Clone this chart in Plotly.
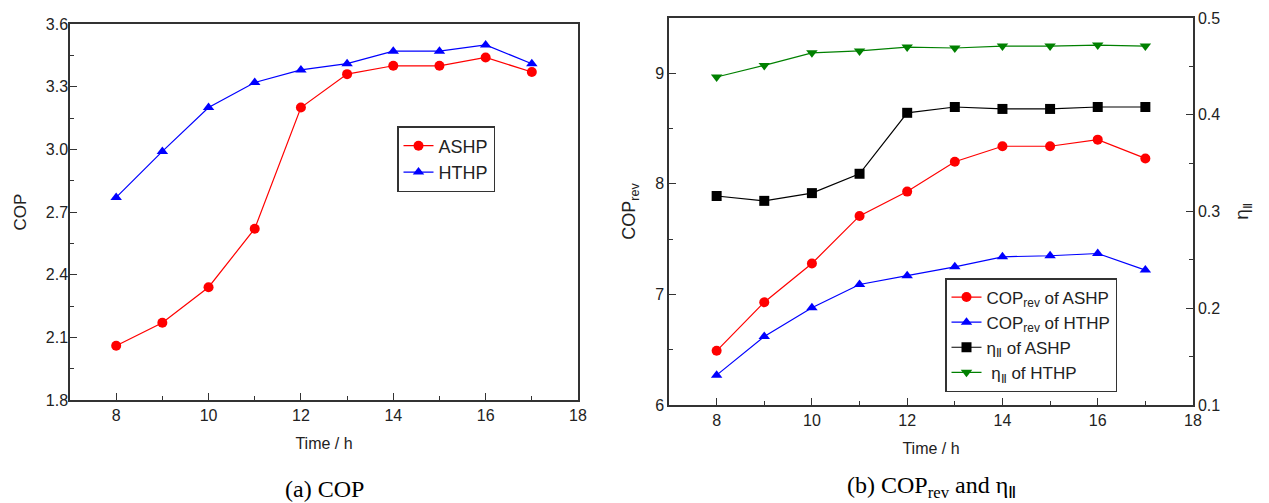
import plotly.graph_objects as go

hours = [8, 9, 10, 11, 12, 13, 14, 15, 16, 17]

# (a) COP
cop_ashp = [2.06, 2.17, 2.34, 2.62, 3.20, 3.36, 3.40, 3.40, 3.44, 3.37]
cop_hthp = [2.77, 2.99, 3.20, 3.32, 3.38, 3.41, 3.47, 3.47, 3.50, 3.41]

# (b) COP_rev and second-law efficiency
coprev_ashp = [6.49, 6.93, 7.28, 7.71, 7.93, 8.20, 8.34, 8.34, 8.40, 8.23]
coprev_hthp = [6.27, 6.62, 6.88, 7.09, 7.17, 7.25, 7.34, 7.35, 7.37, 7.22]
eta_ashp = [0.316, 0.311, 0.319, 0.339, 0.402, 0.408, 0.406, 0.406, 0.408, 0.408]
eta_hthp = [0.439, 0.451, 0.464, 0.466, 0.470, 0.469, 0.471, 0.471, 0.472, 0.471]

RED = "#ff0000"
BLUE = "#0000ff"
BLACK = "#000000"
GREEN = "#008000"
FRAME = "#333333"
FONT = "Liberation Sans, Arial, sans-serif"

fig = go.Figure()

def add(x, y, name, color, symbol, xa, ya, legend):
    fig.add_trace(go.Scatter(
        x=x, y=y, name=name, mode="lines+markers",
        line=dict(color=color, width=1.2),
        marker=dict(color=color, symbol=symbol, size=10),
        xaxis=xa, yaxis=ya, legend=legend))

add(hours, cop_ashp, "ASHP", RED, "circle", "x", "y", "legend")
add(hours, cop_hthp, "HTHP", BLUE, "triangle-up", "x", "y", "legend")
add(hours, coprev_ashp, "COP<sub>rev</sub> of ASHP", RED, "circle", "x2", "y2", "legend2")
add(hours, coprev_hthp, "COP<sub>rev</sub> of HTHP", BLUE, "triangle-up", "x2", "y2", "legend2")
add(hours, eta_ashp, "η<sub>Ⅱ</sub> of ASHP", BLACK, "square", "x2", "y3", "legend2")
add(hours, eta_hthp, " η<sub>Ⅱ</sub> of HTHP", GREEN, "triangle-down", "x2", "y3", "legend2")

W, H = 1269, 503
def px(v):
    return v / W
def py(v):
    return 1 - v / H

axis_common = dict(
    showline=True, linecolor=FRAME, linewidth=1.5, mirror=True,
    ticks="inside", ticklen=7, tickwidth=1, tickcolor=FRAME,
    showgrid=False, zeroline=False, automargin=False,
    tickfont=dict(family=FONT, size=16, color="#222"),
)

xcommon = dict(axis_common, range=[7, 18], dtick=2, tick0=8,
               minor=dict(ticks="inside", ticklen=4, dtick=1, tick0=7, tickcolor=FRAME),
               title=dict(text="Time / h", font=dict(family=FONT, size=16, color="#222")))

fig.update_layout(
    width=W, height=H,
    margin=dict(l=0, r=0, t=0, b=0),
    plot_bgcolor="white", paper_bgcolor="white",
    showlegend=True,
    xaxis=dict(xcommon, domain=[px(70), px(578)], anchor="y"),
    yaxis=dict(axis_common, domain=[py(400), py(24)], anchor="x",
               range=[1.8, 3.6], dtick=0.3, tick0=1.8, tickformat=".1f",
               ticklabelstandoff=-3,
               minor=dict(ticks="inside", ticklen=4, dtick=0.15, tick0=1.8, tickcolor=FRAME),
               title=dict(text="COP", font=dict(family=FONT, size=17, color="#222"))),
    xaxis2=dict(xcommon, domain=[px(669), px(1193)], anchor="y2"),
    yaxis2=dict(axis_common, domain=[py(405), py(18)], anchor="x2",
                range=[6, 9.5], dtick=1, tick0=6,
                minor=dict(ticks="inside", ticklen=4, dtick=0.5, tick0=6, tickcolor=FRAME),
                title=dict(text="COP<sub>rev</sub>", font=dict(family=FONT, size=18, color="#222"))),
    yaxis3=dict(axis_common, overlaying="y2", side="right", anchor="x2",
                mirror=False, range=[0.1, 0.5], dtick=0.1, tick0=0.1,
                minor=dict(ticks="inside", ticklen=4, dtick=0.05, tick0=0.1, tickcolor=FRAME),
                title=dict(text="η<sub>Ⅱ</sub>", font=dict(family=FONT, size=19, color="#222"))),
    legend=dict(x=px(397), y=py(126), xanchor="left", yanchor="top",
                bgcolor="white", bordercolor=FRAME, borderwidth=1.5,
                font=dict(family=FONT, size=18, color="#222"), tracegroupgap=0),
    legend2=dict(x=px(945), y=py(278), xanchor="left", yanchor="top",
                 bgcolor="white", bordercolor=FRAME, borderwidth=1.5,
                 font=dict(family=FONT, size=17, color="#222"), tracegroupgap=0),
)

caption_font = dict(family="Liberation Serif, Times New Roman, serif", size=24, color="#000")
fig.add_annotation(text="(a) COP", x=(px(70) + px(578)) / 2, y=py(489), xref="paper", yref="paper",
                   showarrow=False, font=caption_font, xanchor="center", yanchor="middle")
fig.add_annotation(text="(b) COP<sub>rev</sub> and η<sub>Ⅱ</sub>", x=(px(669) + px(1193)) / 2, y=py(487),
                   xref="paper", yref="paper", showarrow=False, font=caption_font,
                   xanchor="center", yanchor="middle")

fig.write_html("out.html", config={"displayModeBar": False},
               post_script="document.body.style.margin='0';document.body.style.overflow='hidden';")
